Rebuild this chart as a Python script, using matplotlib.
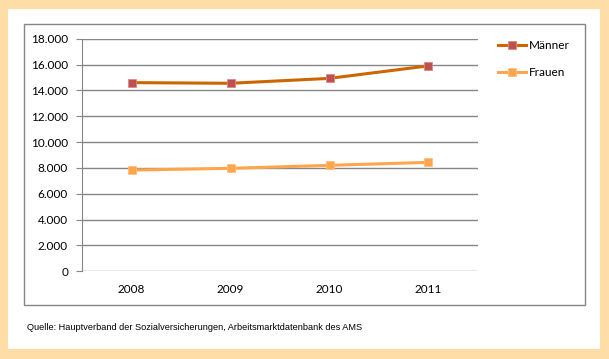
import matplotlib.pyplot as plt
from matplotlib.patches import Rectangle

years = ['2008', '2009', '2010', '2011']
maenner = [14600, 14550, 14930, 15900]
frauen = [7830, 7970, 8200, 8430]
yticks = [0, 2000, 4000, 6000, 8000, 10000, 12000, 14000, 16000, 18000]
ylabels = ['0', '2.000', '4.000', '6.000', '8.000', '10.000',
           '12.000', '14.000', '16.000', '18.000']
source = 'Quelle: Hauptverband der Sozialversicherungen, Arbeitsmarktdatenbank des AMS'

plt.rcParams['font.family'] = ['Lato', 'DejaVu Sans']

W, H = 609, 359
fig = plt.figure(figsize=(W / 100, H / 100), dpi=100)
fig.patch.set_facecolor('#FFDDA6')


def px_rect(x0, y0, x1, y1, **kw):
    # rectangle in pixel coords (origin top left)
    return Rectangle((x0 / W, 1 - y1 / H), (x1 - x0) / W, (y1 - y0) / H,
                     transform=fig.transFigure, zorder=-5, **kw)


fig.patches.append(px_rect(8, 9, 600, 349, facecolor='white', edgecolor='none'))
fig.patches.append(px_rect(24, 24, 585, 305, facecolor='none',
                           edgecolor='#868686', linewidth=1))

ax = fig.add_axes([82 / W, 1 - 271.3 / H, 396 / W, 232.6 / H])
ax.set_facecolor('none')

x = list(range(len(years)))
ax.plot(x, maenner, color='#CC6600', linewidth=2.2, marker='s',
        markersize=6, markerfacecolor='#C0504D', markeredgecolor='#D98A88',
        markeredgewidth=0.6, label='Männer')
ax.plot(x, frauen, color='#FFA64D', linewidth=2.2, marker='s',
        markersize=6, markerfacecolor='#FFA64D', markeredgecolor='#FFC080',
        markeredgewidth=0.6, label='Frauen')

ax.set_xlim(-0.5, 3.5)
ax.set_ylim(0, 18000)
ax.set_xticks(x)
ax.set_xticklabels(years)
ax.set_yticks(yticks)
ax.set_yticklabels(ylabels)
ax.grid(axis='y', color='#868686', linewidth=1)
ax.set_axisbelow(True)
for s in ['top', 'right', 'bottom']:
    ax.spines[s].set_visible(False)
ax.spines['left'].set_color('#868686')
ax.tick_params(axis='y', length=4, color='#868686', pad=6, labelsize=8.5)
ax.tick_params(axis='x', length=0, pad=9, labelsize=8.5)

ax.legend(loc='upper left', bbox_to_anchor=(498 / W, 1 - 40 / H),
          bbox_transform=fig.transFigure, frameon=False, fontsize=8.5,
          handlelength=2.4, handletextpad=0.2, labelspacing=1.35,
          borderpad=0, borderaxespad=0, markerscale=1)

fig.text(27 / W, 1 - 327 / H, source, fontsize=6.6, family='Liberation Sans',
         va='center', ha='left')

fig.savefig('out.png', dpi=100, facecolor=fig.get_facecolor())
